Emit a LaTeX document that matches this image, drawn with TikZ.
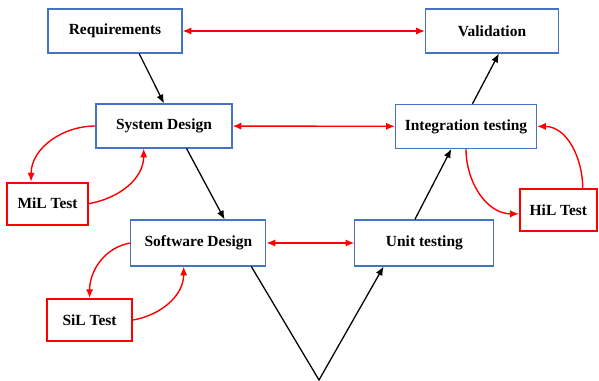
\documentclass[tikz,border=0pt]{standalone}
\usepackage{fontspec}
\setmainfont{Liberation Serif}
\usepackage{tikz}
\usetikzlibrary{arrows.meta}
\definecolor{boxblue}{RGB}{68,114,196}
\tikzset{  stage/.style={draw=boxblue,line width=0.8pt,minimum width=#1,minimum height=1.1cm,font=\bfseries\fontsize{11}{13}\selectfont},
  xil/.style={draw=red,line width=1.3pt,minimum width=#1,minimum height=1.05cm,font=\bfseries\fontsize{11}{13}\selectfont},
  vee/.style={black,line width=0.9pt},
  link/.style={red,line width=1pt},
  both/.style={link,{Latex[length=2.2mm,width=1.8mm]}-{Latex[length=2.2mm,width=1.8mm]}} }

\begin{document}
\begin{tikzpicture}[-{Latex[length=2.2mm,width=1.8mm]}]
   \useasboundingbox (0,0) rectangle (14.975,-9.525);
   \node[stage=3.35cm] (req) at (2.875,-0.775) {Requirements};
   \node[stage=3.325cm] (val) at (12.3,-0.775) {Validation};
   \node[stage=3.4cm] (sys) at (4.1,-3.15) {System Design};
   \node[stage=3.525cm] (integ) at (11.65,-3.16) {Integration testing};
   \node[stage=3.375cm,minimum height=1.15cm] (sw) at (4.96,-6.075) {Software Design};
   \node[stage=3.475cm,minimum height=1.15cm] (unit) at (10.61,-6.075) {Unit testing};
   \node[xil=2.025cm] (mil) at (1.19,-5.09) {MiL Test};
   \node[xil=2.125cm] (sil) at (2.24,-8.0) {SiL Test};
   \node[xil=1.925cm] (hil) at (13.96,-5.26) {HiL Test};
   \coordinate (tip) at (7.975,-9.5);
   % left leg and right leg of the V
   \draw[vee] (req.-43) -- (sys.north);
   \draw[vee] (sys.-45) -- (sw.42);
   \draw[vee] (sw.-24) -- (tip) -- (unit.210);
   \draw[vee] (unit.112) -- (integ.237);
   \draw[vee] (integ.74) -- (val.-73);
   % verification links
   \draw[both] (req) -- (val);
   \draw[both] (sys) -- (integ);
   \draw[both] (sw) -- (unit);
   % in-the-loop tests
   \draw[link] (sys.west) to[out=180,in=90] (mil.127);
   \draw[link] (mil.east) to[out=10,in=-90] (sys.228);
   \draw[link] (sw.west) to[out=190,in=90] (sil.north);
   \draw[link] (sil.east) to[out=10,in=-90] (sw.238);
   \draw[link] (integ.south) to[out=-90,in=180] (hil.185);
   \draw[link] (hil.42) to[out=90,in=0] (integ.east);
\end{tikzpicture}
\end{document}
